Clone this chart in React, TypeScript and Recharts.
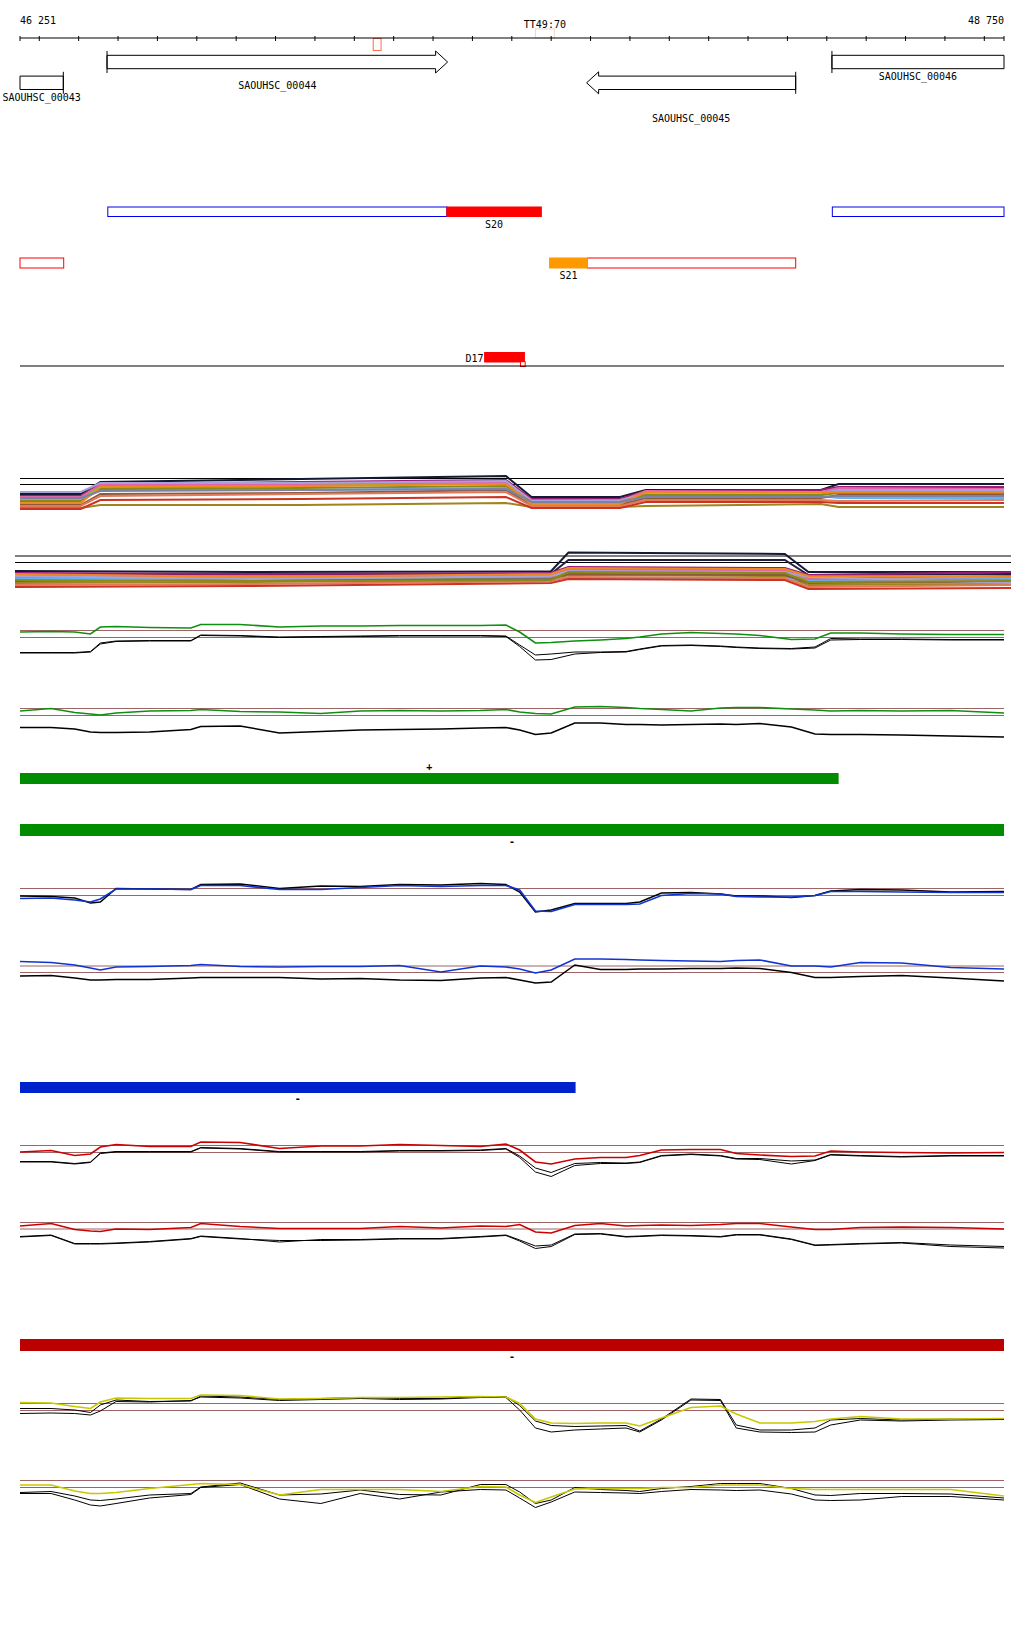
import React from 'react'
import {
  ComposedChart,
  LineChart,
  Line,
  XAxis,
  YAxis,
  ReferenceArea,
  ReferenceLine
} from 'recharts'

const VIEW_START = 46251
const VIEW_END = 48750

const rulerTicks = [
  46251, 46300, 46400, 46500, 46600, 46700, 46800, 46900, 47000, 47100, 47200, 47300, 47400,
  47500, 47600, 47700, 47800, 47900, 48000, 48100, 48200, 48300, 48400, 48500, 48600, 48700, 48750
]

// genes
const geneNames = ['SAOUHSC_00043', 'SAOUHSC_00044', 'SAOUHSC_00045', 'SAOUHSC_00046']
const geneStarts = [46251, 46472, 47690, 48313]
const geneEnds = [46361, 47337, 48221, 48750]
const geneStrands = ['-', '+', '-', '+']

// transcribed regions
const regionStarts = [46474, 48314, 46251, 47692]
const regionEnds = [47335, 48750, 46362, 48221]
const regionStrands = ['+', '+', '-', '-']

// small RNAs
const srnaNames = ['S20', 'S21', 'D17']
const srnaStarts = [47335, 47596, 47431]
const srnaEnds = [47575, 47692, 47532]
const srnaLanes = ['+', '-', 'D']

const tssStarts = [47522]
const tssEnds = [47534]

// marks on the ruler
const markNames = ['', 'TT49:70']
const markStarts = [47148, 47560]
const markEnds = [47168, 47608]

// tiling arrays, multi-sample tracks
const posA = [46251, 46405, 46455, 46965, 47485, 47550, 47775, 47840, 48285, 48330, 48750]
const samplesA = [
  [-9.5, -9.5, 2.5, 5.5, 8.5, -12.5, -12.5, -5.5, -5.5, 0.5, 0.5],
  [-17.5, -17.5, -3.5, -1.5, 1.5, -18.5, -19.5, -9.5, -9.5, -4.5, -4.5],
  [-23.5, -23.5, -20.5, -20.5, -18.5, -22.5, -22.5, -21.5, -19.5, -22.5, -22.5],
  [-14.5, -14.5, -1.5, -0.5, 1.5, -15.5, -15.5, -7.5, -7.5, -6.5, -6.5],
  [-11.5, -11.5, 0.5, 2.5, 4.5, -14.5, -14.5, -6.5, -5.5, -2.5, -2.5],
  [-15.5, -15.5, -5.5, -5.5, -3.5, -16.5, -16.5, -11.5, -11.5, -13.5, -13.5],
  [-12.5, -12.5, -0.5, 0.5, 2.5, -15.5, -16.5, -6.5, -7.5, -3.5, -4.5],
  [-20.5, -20.5, -9.5, -8.5, -5.5, -20.5, -20.5, -13.5, -13.5, -10.5, -10.5],
  [-7.5, -7.5, 1.5, 1.5, 3.5, -16.5, -15.5, -9.5, -8.5, -5.5, -5.5],
  [-21.5, -21.5, -11.5, -9.5, -7.5, -21.5, -21.5, -15.5, -15.5, -16.5, -15.5],
  [-16.5, -16.5, -4.5, -3.5, -1.5, -17.5, -17.5, -10.5, -10.5, -8.5, -8.5],
  [-24.5, -24.5, -15.5, -14.5, -12.5, -23.5, -23.5, -17.5, -17.5, -18.5, -18.5],
  [-18.5, -18.5, -2.5, -1.5, 0.5, -19.5, -19.5, -7.5, -7.5, -7.5, -7.5],
  [-13.5, -13.5, -6.5, -5.5, -4.5, -17.5, -17.5, -12.5, -12.5, -11.5, -11.5]
]

const posB = [46238, 46835, 47600, 47645, 48195, 48255, 48770]
const samplesB = [
  [-8.5, -9.5, -9, 10, 8.5, -9.5, -9.5],
  [-12.5, -12.5, -11.5, 2.5, 2.5, -12.5, -11.5],
  [-12.5, -13.5, -12.5, -6.5, -7.5, -15.5, -13.5],
  [-20.5, -19.5, -17.5, -12.5, -13.5, -22.5, -21.5],
  [-15.5, -15.5, -15.5, -10.5, -11.5, -17.5, -16.5],
  [-10.5, -11.5, -10.5, -4.5, -5.5, -12.5, -9.5],
  [-16.5, -14.5, -15.5, -15.5, -15.5, -18.5, -15.5],
  [-14.5, -13.5, -14.5, -7.5, -8.5, -16.5, -17.5],
  [-18.5, -17.5, -16.5, -11.5, -12.5, -20.5, -19.5],
  [-13.5, -16.5, -13.5, -8.5, -9.5, -14.5, -20.5],
  [-22.5, -21.5, -18.5, -14.5, -15.5, -24.5, -22.5],
  [-17.5, -18.5, -17.5, -9.5, -10.5, -19.5, -18.5],
  [-24.5, -23.5, -20.5, -16.5, -17.5, -26.5, -25.5],
  [-11.5, -14.5, -11.5, -5.5, -6.5, -13.5, -14.5]
]

// per-condition signal tracks (shared positions)
const signalPos = [
  46251, 46330, 46390, 46430, 46455, 46495, 46580, 46685, 46710, 46810, 46910, 47015, 47115,
  47215, 47320, 47420, 47485, 47520, 47560, 47600, 47660, 47725, 47790, 47825, 47880, 47955,
  48030, 48070, 48130, 48210, 48270, 48310, 48385, 48490, 48615, 48750
]

const greenPlus = [5.5, 6, 5.5, 3.5, 10.5, 11, 10, 9.5, 13, 13, 10.5, 11.5, 11.5, 12, 12, 12, 12.5, 5.5, -5.5, -5, -3.5, -2.5, -1, 0.5, 3.5, 5, 4, 3.5, 2, -2, -1.5, 4.5, 4.5, 3.5, 3, 3]
const greenPlusRef1 = [-15, -15, -15, -14, -5.5, -3.5, -3, -3, 2.5, 2, 0.5, 1, 1.5, 2, 2, 2, 1.5, -7.5, -17.5, -16.5, -14.5, -14.5, -14, -11.5, -8, -7.5, -8.5, -9.5, -10.5, -11, -9.5, -1, -1.5, -1.5, -2, -2]
const greenPlusRef2 = [-15.5, -15.5, -15.5, -14.5, -6.5, -4, -3.5, -3.5, 2, 1.5, 0, 0.5, 1, 1.5, 1.5, 1.5, 1, -9, -22.5, -22, -16.5, -15, -14.5, -12, -8.5, -8, -9, -10, -11, -11.5, -10.5, -2.5, -2, -2, -2.5, -2.5]

const greenMinus = [4.5, 7, 3, 1.5, 0.5, 2.5, 4.5, 5, 6, 4, 3.5, 2, 4.5, 5, 4.5, 5, 6, 3.5, 2, 1.5, 8.5, 9, 8, 7, 6, 4.5, 7.5, 8, 8, 6.5, 5.5, 4.5, 5, 4.5, 5, 2.5]
const greenMinusRef = [-12, -12, -13.5, -16.5, -17, -17, -16.5, -14, -11, -10.5, -17.5, -16, -14.5, -14, -13.5, -12.5, -12, -14.5, -19, -17.5, -7.5, -7.5, -9, -9, -9.5, -9, -8.5, -9, -8, -11.5, -18.5, -19, -19, -19.5, -20.5, -21.5]

const bluePlus = [-3, -2.5, -4.5, -6.5, -3.5, 6.5, 6.5, 6, 10, 10, 6, 6, 8, 10, 9, 10, 10, 5.5, -15.5, -16, -9, -9, -9, -8.5, 0, 2, 1.5, -1, -1.5, -1.5, 0, 4, 4, 3.5, 3, 3]
const bluePlusRef = [-0.5, -1, -2.5, -7.5, -6.5, 7, 6.5, 6, 11, 11.5, 7, 9.5, 9, 11, 10.5, 12, 11, 3.5, -16.5, -14.5, -8, -8, -8, -6.5, 2.5, 3, 1.5, -0.5, -0.5, -2, 0, 4.5, 6, 5.5, 3.5, 4]

const blueMinus = [11, 10, 7.5, 4.5, 2.5, 5.5, 6, 7, 8, 6, 5.5, 6, 6, 7, 0.5, 6.5, 5.5, 3.5, -0.5, 2.5, 13.5, 13.5, 13, 12.5, 12, 11.5, 11, 12, 12.5, 6.5, 6.5, 5.5, 10, 9.5, 5, 3.5]
const blueMinusRef = [-3.5, -3, -5.5, -7.5, -7.5, -7, -7, -5.5, -5, -5, -5, -6.5, -6, -7.5, -8, -5.5, -5, -7.5, -10.5, -9.5, 7.5, 3, 3, 3.5, 3.5, 4, 4, 4.5, 4, 0, -5, -5, -4, -3, -5.5, -8.5]

const redPlus = [0.5, 2, -3, -1.5, 5.5, 8, 6, 6, 10.5, 10, 4, 6.5, 6.5, 8, 7, 6, 8.5, 2.5, -9.5, -11.5, -6.5, -5, -5, -3, 2.5, 3, 3, -1, -2.5, -4, -3.5, 1.5, 0.5, 0, -0.5, 0]
const redPlusRef1 = [-9, -9, -11, -9.5, -0.5, 1, 1, 1, 5, 4, 1, 1, 1, 2, 2, 2.5, 4, -3.5, -15.5, -20, -11, -10, -10.5, -9.5, -3, -1.5, -3, -6, -6, -8.5, -7.5, -2, -3, -4, -3, -3]
const redPlusRef2 = [-9.5, -9.5, -11.5, -10, -1, 0.5, 0.5, 0.5, 4.5, 3.5, 0.5, 0.5, 0.5, 1.5, 1.5, 2, 3.5, -5, -19.5, -24, -13, -11, -11, -10, -3.5, -2, -3.5, -6.5, -7, -11.5, -8, -2.5, -3.5, -4.5, -3.5, -3.5]

const redMinus = [3, 5.5, -0.5, -2, -2.5, 0, -0.5, 1.5, 5.5, 2.5, 0.5, 0.5, 0.5, 2.5, 1, 3, 2.5, 4.5, -3, -4, 3.5, 5.5, 3, 3.5, 4, 3.5, 4.5, 5.5, 5.5, 2, -0.5, -0.5, 1.5, 2, 1.5, 0]
const redMinusRef1 = [-7.5, -6, -14.5, -14.5, -14.5, -14, -12.5, -9.5, -7, -9.5, -13, -10.5, -10.5, -9.5, -9.5, -7.5, -6, -11, -17, -16, -5, -4.5, -7.5, -7, -6, -6.5, -7.5, -5.5, -5.5, -10, -16, -15.5, -14.5, -13.5, -16, -17.5]
const redMinusRef2 = [-8, -6.5, -15, -15, -15, -14.5, -13, -10, -7.5, -10, -11.5, -11.5, -11, -10, -10, -8, -6.5, -12, -19.5, -17.5, -5.5, -5, -8, -7.5, -6.5, -7, -8, -6, -6, -10.5, -16.5, -16, -15, -14, -17.5, -19]

const yellowPlus = [8, 7.5, 4, 2, 8.5, 12.5, 12, 12, 15.5, 15, 11.5, 12, 13, 13, 13.5, 14, 13.5, 7, -8.5, -12.5, -13, -12.5, -12.5, -15.5, -7.5, 3, 4.5, -3.5, -12.5, -12.5, -11, -8.5, -6, -8.5, -8.5, -8]
const yellowPlusRef1 = [2, 2, 0.5, -2, 5.5, 10.5, 9, 9.5, 14.5, 13.5, 11, 12, 13, 12, 12, 14, 14, 5, -10.5, -15, -16, -15.5, -15, -20.5, -8.5, 11.5, 11, -14.5, -19.5, -19.5, -17.5, -9.5, -8, -9.5, -8.5, -9]
const yellowPlusRef2 = [-3, -2.5, -3, -4.5, -0.5, 9, 8.5, 10, 13.5, 12.5, 10, 11, 12, 11, 11.5, 13, 13, 0.5, -17.5, -21.5, -19.5, -18.5, -17.5, -21.5, -9.5, 10.5, 10, -17.5, -21.5, -22, -21.5, -14.5, -9.5, -10.5, -9.5, -9]

const yellowMinus = [2.5, 2.5, -3.5, -6, -6, -5, -1, 3, 4, 3, -7.5, -2, -2, -2, -4, 1, 0.5, -7.5, -15, -9.5, -1.5, -1, -1, -1, 0, 0, 2.5, 2.5, 2.5, -1, -2, -2, -2, -2, -2, -8.5]
const yellowMinusRef1 = [-5, -4, -8.5, -12.5, -13, -11.5, -7.5, -6, 0.5, 4.5, -7.5, -6.5, -2.5, -7, -7.5, 3, 3, -4.5, -16, -12.5, 0, -2, -3, -4, -1, 1, 4, 4, 4, -1, -7.5, -8, -6, -6, -6.5, -10.5]
const yellowMinusRef2 = [-6, -6, -12.5, -17.5, -18.5, -16, -10.5, -7, 0, 3, -11.5, -16, -6, -11.5, -4.5, -2, -2.5, -10.5, -20, -14.5, -4.5, -5, -5.5, -6, -4, -2, -2.5, -3, -2.5, -6.5, -12.5, -13, -12.5, -9, -9, -12.5]

// operon / segment predictions
const segmentLabels = ['+', '-', '-', '-']
const segmentStarts = [46251, 46251, 46251, 46251]
const segmentEnds = [48330, 48750, 47662, 48750]

// ---- styles / layout ----
const FONT = "'DejaVu Sans Mono', monospace"
const GREEN = '#0f8f0f'
const BLUE = '#1034d4'
const RED = '#cc0000'
const YELLOW = '#c8c800'
const BROWN = '#9c6464'
const SAMPLE_COLORS = [
  '#141a33', '#e0602a', '#a08420', '#66dd00', '#9a1a78', '#66b2ee', '#e066a8',
  '#8c5a3c', '#a8a0d8', '#e07a5a', '#8a8a1a', '#cc3322', '#ee8822', '#7a82a8'
]
const SAMPLE_COLORS_B = [
  '#141a33', '#202040', '#e0602a', '#a08420', '#66dd00', '#9a1a78', '#66b2ee',
  '#e066a8', '#8c5a3c', '#a8a0d8', '#e07a5a', '#8a8a1a', '#cc3322', '#ee8822'
]
const GENE_LANE: Record<string, number> = { '+': 62, '-': 82.8 }
const GENE_LABEL_DY = [14.5, 23, 35.5, 14]
const FEATURE_LANE: Record<string, [number, number]> = {
  '+': [207, 216.5],
  '-': [258, 268],
  D: [352.5, 362]
}
const REGION_STROKE: Record<string, string> = { '+': '#0000ee', '-': '#ff0000' }
const SRNA_FILL = ['#ff0000', '#ff9900', '#ff0000']
const SRNA_LABEL = ['below', 'below', 'left']
const MARK_Y = [[38.5, 50.5], [29, 38]]
const MARK_COLOR = ['#ff6a4a', '#f2d6ca']
const SEGMENT_LAYOUT = [
  { top: 761, plot: 11, color: '#008c00', pos: 'above' },
  { top: 812, plot: 12, color: '#008c00', pos: 'below' },
  { top: 1070, plot: 11, color: '#0022cc', pos: 'below' },
  { top: 1327, plot: 12, color: '#bb0000', pos: 'below' }
]

const fmtPos = (v: number) => `${Math.floor(v / 1000)} ${String(v % 1000).padStart(3, '0')}`

function RulerTick(props: any) {
  const { x, y, payload } = props
  const v = payload.value
  const first = v === VIEW_START
  const last = v === VIEW_END
  return (
    <g>
      <line x1={x} x2={x} y1={y - 2} y2={y + 3} stroke="#000" />
      {(first || last) && (
        <text x={x} y={y - 14} textAnchor={first ? 'start' : 'end'} fontFamily={FONT} fontSize={10} fill="#000">
          {fmtPos(v)}
        </text>
      )}
    </g>
  )
}

function GeneGlyph(props: any) {
  const { x, y, width, height, strand, head, name, labelDy } = props
  const cy = y + height / 2
  const x0 = x
  const x1 = x + width
  const L = 12
  const HH = 11
  let d = `M${x0},${y} H${x1} V${y + height} H${x0} Z`
  if (head && strand === '+') {
    d = `M${x0},${y} H${x1 - L} V${cy - HH} L${x1},${cy} L${x1 - L},${cy + HH} V${y + height} H${x0} Z`
  } else if (head && strand === '-') {
    d = `M${x1},${y} H${x0 + L} V${cy - HH} L${x0},${cy} L${x0 + L},${cy + HH} V${y + height} H${x1} Z`
  }
  const sx = strand === '+' ? x0 : x1
  return (
    <g>
      <path d={d} fill="#fff" stroke="#000" strokeWidth={1} />
      <line x1={sx} x2={sx} y1={cy - 11} y2={cy + 11} stroke="#000" />
      <text x={(x0 + x1) / 2} y={cy + labelDy} dominantBaseline="central" textAnchor="middle" fontFamily={FONT} fontSize={10} fill="#000">
        {name}
      </text>
    </g>
  )
}

function FeatureBox(props: any) {
  const { x, y, width, height, fill, stroke, label, labelMode } = props
  return (
    <g>
      <rect x={x} y={y} width={width} height={height} fill={fill} stroke={stroke} strokeWidth={1} />
      {label && labelMode === 'below' && (
        <text x={x + width / 2} y={y + height / 2 + 12.5} dominantBaseline="central" textAnchor="middle" fontFamily={FONT} fontSize={10} fill="#000">
          {label}
        </text>
      )}
      {label && labelMode === 'left' && (
        <text x={x - 1} y={y + height / 2 + 1} dominantBaseline="central" textAnchor="end" fontFamily={FONT} fontSize={10} fill="#000">
          {label}
        </text>
      )}
      {label && labelMode === 'above' && (
        <text x={x + width / 2} y={y - 5} dominantBaseline="central" textAnchor="middle" fontFamily={FONT} fontSize={10} fill="#000">
          {label}
        </text>
      )}
    </g>
  )
}

function SegmentGlyph(props: any) {
  const { x, y, width, height, fill, label, labelMode } = props
  const ty = labelMode === 'above' ? y - 7 : y + height + 5.5
  return (
    <g>
      <rect x={x} y={y} width={width} height={height} fill={fill} stroke="none" />
      <text x={x + width / 2} y={ty} dominantBaseline="central" textAnchor="middle" fontFamily={FONT} fontSize={10} fontWeight="bold" fill="#000">
        {label}
      </text>
    </g>
  )
}

function Header() {
  return (
    <ComposedChart width={1024} height={372} data={[]} margin={{ top: 0, right: 20, bottom: 0, left: 20 }}>
      <XAxis
        type="number"
        dataKey="pos"
        orientation="top"
        domain={[VIEW_START, VIEW_END]}
        ticks={rulerTicks}
        interval={0}
        height={38}
        tickLine={false}
        tickSize={0}
        tickMargin={0}
        axisLine={{ stroke: '#000' }}
        tick={(p: any) => <RulerTick {...p} />}
        allowDataOverflow
      />
      <YAxis type="number" domain={[38, 372]} reversed hide allowDataOverflow />
      {markStarts.map((s, i) => (
        <ReferenceArea
          key={'mark' + i}
          x1={s}
          x2={markEnds[i]}
          y1={MARK_Y[i][0]}
          y2={MARK_Y[i][1]}
          ifOverflow="visible"
          shape={(p: any) => <FeatureBox {...p} fill="#fff" stroke={MARK_COLOR[i]} label={markNames[i]} labelMode="above" />}
        />
      ))}
      {geneNames.map((name, i) => {
        const cy = GENE_LANE[geneStrands[i]]
        const head =
          (geneStrands[i] === '+' && geneEnds[i] < VIEW_END) || (geneStrands[i] === '-' && geneStarts[i] > VIEW_START)
        return (
          <ReferenceArea
            key={name}
            x1={geneStarts[i]}
            x2={geneEnds[i]}
            y1={cy - 6.7}
            y2={cy + 6.7}
            ifOverflow="visible"
            shape={(p: any) => (
              <GeneGlyph {...p} strand={geneStrands[i]} head={head} name={name} labelDy={GENE_LABEL_DY[i]} />
            )}
          />
        )
      })}
      {regionStarts.map((s, i) => {
        const lane = FEATURE_LANE[regionStrands[i]]
        return (
          <ReferenceArea
            key={'reg' + i}
            x1={s}
            x2={regionEnds[i]}
            y1={lane[0]}
            y2={lane[1]}
            ifOverflow="visible"
            shape={(p: any) => <FeatureBox {...p} fill="#fff" stroke={REGION_STROKE[regionStrands[i]]} />}
          />
        )
      })}
      {srnaNames.map((name, i) => {
        const lane = FEATURE_LANE[srnaLanes[i]]
        return (
          <ReferenceArea
            key={name}
            x1={srnaStarts[i]}
            x2={srnaEnds[i]}
            y1={lane[0]}
            y2={lane[1]}
            ifOverflow="visible"
            shape={(p: any) => (
              <FeatureBox {...p} fill={SRNA_FILL[i]} stroke={SRNA_FILL[i]} label={name} labelMode={SRNA_LABEL[i]} />
            )}
          />
        )
      })}
      {tssStarts.map((s, i) => (
        <ReferenceArea
          key={'tss' + i}
          x1={s}
          x2={tssEnds[i]}
          y1={361.7}
          y2={366.5}
          ifOverflow="visible"
          shape={(p: any) => <FeatureBox {...p} fill="#fff" stroke="#ff0000" />}
        />
      ))}
      <ReferenceLine y={366} stroke="#000" strokeWidth={1} ifOverflow="visible" />
    </ComposedChart>
  )
}

type Series = { values: number[]; color: string; width?: number }

function SignalPanel(props: {
  top: number
  height: number
  zero: number
  pos: number[]
  series: Series[]
  refs: number[]
  refColor: string
  left?: number
  right?: number
}) {
  const { top, height, zero, pos, series, refs, refColor } = props
  const left = props.left ?? 20
  const right = props.right ?? 20
  const data = pos.map((p, i) => {
    const row: Record<string, number> = { pos: p }
    series.forEach((s, j) => {
      row['s' + j] = s.values[i]
    })
    return row
  })
  return (
    <div style={{ position: 'absolute', left: 0, top }}>
      <LineChart width={1024} height={height} data={data} margin={{ top: 0, right, bottom: 0, left }}>
        <XAxis dataKey="pos" type="number" domain={[pos[0], pos[pos.length - 1]]} hide allowDataOverflow />
        <YAxis type="number" domain={[zero - top - height, zero - top]} hide allowDataOverflow />
        {refs.map((r) => (
          <ReferenceLine key={r} y={r} stroke={refColor} strokeWidth={1} />
        ))}
        {series.map((s, j) => (
          <Line
            key={j}
            dataKey={'s' + j}
            type="linear"
            stroke={s.color}
            strokeWidth={s.width ?? 1}
            dot={false}
            activeDot={false}
            isAnimationActive={false}
          />
        ))}
      </LineChart>
    </div>
  )
}

function SegmentBar({ i }: { i: number }) {
  const lay = SEGMENT_LAYOUT[i]
  const data = [
    { pos: segmentStarts[i], seg: 1 },
    { pos: segmentEnds[i], seg: 1 }
  ]
  return (
    <div style={{ position: 'absolute', left: 0, top: lay.top }}>
      <ComposedChart width={1024} height={lay.plot + 24} data={data} margin={{ top: 12, right: 20, bottom: 12, left: 20 }}>
        <XAxis type="number" dataKey="pos" domain={[VIEW_START, VIEW_END]} hide allowDataOverflow />
        <YAxis type="number" domain={[0, 1]} hide allowDataOverflow />
        <ReferenceArea
          x1={segmentStarts[i]}
          x2={segmentEnds[i]}
          y1={0}
          y2={1}
          ifOverflow="visible"
          shape={(p: any) => <SegmentGlyph {...p} fill={lay.color} label={segmentLabels[i]} labelMode={lay.pos} />}
        />
      </ComposedChart>
    </div>
  )
}

export default function App() {
  const dark = (v: number[]): Series => ({ values: v, color: '#000' })
  return (
    <div style={{ position: 'absolute', left: 0, top: 0, width: 1024, height: 1640, background: '#fff' }}>
      <div style={{ position: 'absolute', left: 0, top: 0 }}>
        <Header />
      </div>
      <SignalPanel
        top={440}
        height={90}
        zero={484.5}
        pos={posA}
        refs={[0, 6]}
        refColor="#000"
        series={samplesA.map((v, i) => ({ values: v, color: SAMPLE_COLORS[i], width: 2 }))}
      />
      <SignalPanel
        top={530}
        height={70}
        zero={562.5}
        pos={posB}
        left={15}
        right={13}
        refs={[0, 6.5]}
        refColor="#000"
        series={samplesB.map((v, i) => ({ values: v, color: SAMPLE_COLORS_B[i], width: 2 }))}
      />
      <SignalPanel top={600} height={70} zero={637.5} pos={signalPos} refs={[0, 7]} refColor={BROWN}
        series={[dark(greenPlusRef1), dark(greenPlusRef2), { values: greenPlus, color: GREEN, width: 1.6 }]} />
      <SignalPanel top={690} height={60} zero={715.5} pos={signalPos} refs={[0, 7]} refColor={BROWN}
        series={[{ values: greenMinusRef, color: '#000', width: 1.5 }, { values: greenMinus, color: GREEN, width: 1.6 }]} />
      <SegmentBar i={0} />
      <SegmentBar i={1} />
      <SignalPanel top={860} height={70} zero={895.5} pos={signalPos} refs={[0, 7]} refColor={BROWN}
        series={[{ values: bluePlusRef, color: '#000', width: 1.5 }, { values: bluePlus, color: BLUE, width: 1.6 }]} />
      <SignalPanel top={940} height={60} zero={972.5} pos={signalPos} refs={[0, 6.5]} refColor={BROWN}
        series={[{ values: blueMinusRef, color: '#000', width: 1.5 }, { values: blueMinus, color: BLUE, width: 1.6 }]} />
      <SegmentBar i={2} />
      <SignalPanel top={1120} height={70} zero={1152.5} pos={signalPos} refs={[0, 7]} refColor={BROWN}
        series={[dark(redPlusRef1), dark(redPlusRef2), { values: redPlus, color: RED, width: 1.6 }]} />
      <SignalPanel top={1200} height={60} zero={1229} pos={signalPos} refs={[0, 6.5]} refColor={BROWN}
        series={[dark(redMinusRef1), dark(redMinusRef2), { values: redMinus, color: RED, width: 1.6 }]} />
      <SegmentBar i={3} />
      <SignalPanel top={1380} height={70} zero={1410.5} pos={signalPos} refs={[0, 7]} refColor={BROWN}
        series={[dark(yellowPlusRef1), dark(yellowPlusRef2), { values: yellowPlus, color: YELLOW, width: 1.6 }]} />
      <SignalPanel top={1460} height={60} zero={1487.5} pos={signalPos} refs={[0, 7]} refColor={BROWN}
        series={[dark(yellowMinusRef1), dark(yellowMinusRef2), { values: yellowMinus, color: YELLOW, width: 1.6 }]} />
    </div>
  )
}
